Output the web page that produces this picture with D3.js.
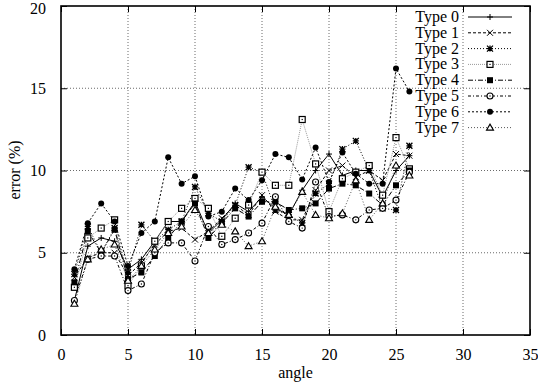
<!DOCTYPE html>
<html>
<head>
<meta charset="utf-8">
<script src="https://cdn.jsdelivr.net/npm/d3@7"></script>
<style>
  body { margin: 0; background: #fff; }
  svg text { font-family: "Times New Roman", "Liberation Serif", Times, serif !important; fill: #000; }
</style>
</head>
<body>
<svg id="chart" width="538" height="382"></svg>
<script>
const angles = d3.range(1, 27);
const type0 = [2.1, 5.4, 5.9, 5.7, 4.0, 4.6, 5.7, 6.9, 6.9, 8.1, 6.2, 7.0, 8.0, 7.5, 8.4, 7.7, 7.3, 8.8, 10.0, 11.0, 9.7, 10.0, 10.0, 8.4, 10.0, 10.9];
const type1 = [3.5, 4.7, 5.0, 5.0, 3.6, 4.4, 5.5, 6.3, 6.5, 5.8, 6.3, 7.1, 7.9, 7.3, 8.5, 7.5, 7.0, 7.0, 8.8, 10.0, 10.3, 9.6, 10.0, 9.4, 11.0, 10.9];
const type2 = [3.7, 6.6, 5.0, 6.5, 3.8, 6.7, 5.7, 6.4, 6.9, 9.0, 7.4, 6.9, 7.9, 10.2, 9.9, 7.6, 7.3, 6.8, 8.6, 9.2, 11.3, 11.8, 10.0, 7.7, 7.6, 11.5];
const type3 = [2.9, 5.9, 6.5, 7.0, 3.0, 4.2, 5.7, 6.9, 7.7, 8.3, 7.7, 6.0, 7.1, 7.9, 9.9, 9.1, 9.1, 13.1, 10.4, 7.5, 9.5, 9.9, 10.3, 8.5, 12.0, 10.1];
const type4 = [3.2, 6.3, 5.0, 6.4, 3.4, 3.8, 4.8, 5.9, 6.9, 8.0, 5.9, 6.8, 7.7, 7.2, 8.1, 8.1, 7.6, 7.7, 8.0, 8.9, 9.2, 9.1, 8.6, 7.9, 9.1, 10.0];
const type5 = [2.1, 4.6, 4.8, 4.8, 2.7, 3.1, 5.0, 5.6, 5.6, 4.5, 6.6, 5.5, 5.8, 6.2, 6.8, 8.4, 6.9, 6.5, 9.3, 7.2, 7.3, 7.0, 7.6, 7.7, 8.2, 9.9];
const type6 = [4.0, 6.8, 8.0, 6.9, 4.2, 6.2, 6.9, 10.8, 9.2, 9.65, 7.2, 7.5, 8.9, 8.2, 9.4, 11.0, 10.8, 9.45, 11.4, 9.3, 11.1, 9.8, 9.2, 9.2, 16.2, 14.8];
const type7 = [1.9, 4.6, 5.2, 5.5, 3.3, 4.2, 5.2, 6.2, 6.6, 7.6, 6.2, 6.7, 6.3, 5.4, 5.7, 7.8, 7.3, 8.7, 7.3, 7.1, 7.4, 9.4, 7.0, 8.0, 10.3, 9.7];
const typeNames = ["Type 0", "Type 1", "Type 2", "Type 3", "Type 4", "Type 5", "Type 6", "Type 7"];
const xTicks = [0, 5, 10, 15, 20, 25, 30, 35];
const yTicks = [0, 5, 10, 15, 20];

const allTypes = [type0, type1, type2, type3, type4, type5, type6, type7];
// line / point style per series, gnuplot-ish
const styles = [
  { dash: null, color: "#000", mark: "plus" },
  { dash: "3,2", color: "#000", mark: "cross" },
  { dash: "1,2", color: "#000", mark: "star" },
  { dash: "1,1", color: "#999", mark: "square" },
  { dash: "5,2,1,2", color: "#000", mark: "fsquare" },
  { dash: "3,2,1,2", color: "#000", mark: "circle" },
  { dash: "2,2", color: "#000", mark: "fcircle" },
  { dash: "1,2", color: "#555", mark: "triangle" }
];

const svg = d3.select("#chart");
const m = { left: 61, right: 530, top: 6, bottom: 335 };

const x = d3.scaleLinear().domain([0, 35]).range([m.left, m.right]);
const y = d3.scaleLinear().domain([0, 20]).range([m.bottom, m.top]);

// grid
const grid = svg.append("g");
grid.selectAll(".gx").data(xTicks.slice(1, -1)).enter().append("line")
  .attr("x1", d => x(d)).attr("x2", d => x(d))
  .attr("y1", m.top).attr("y2", m.bottom)
  .attr("stroke", "#444").attr("stroke-width", 0.8).attr("stroke-dasharray", "1,2");
grid.selectAll(".gy").data(yTicks.slice(1, -1)).enter().append("line")
  .attr("y1", d => y(d)).attr("y2", d => y(d))
  .attr("x1", m.left).attr("x2", m.right)
  .attr("stroke", "#444").attr("stroke-width", 0.8).attr("stroke-dasharray", "1,2");

// axes with inward ticks, mirrored
const xb = svg.append("g").attr("transform", `translate(0,${m.bottom})`)
  .call(d3.axisBottom(x).tickValues(xTicks).tickSizeInner(-6).tickSizeOuter(0).tickPadding(14));
const xt = svg.append("g").attr("transform", `translate(0,${m.top})`)
  .call(d3.axisTop(x).tickValues(xTicks).tickSizeInner(-6).tickSizeOuter(0).tickFormat(""));
const yl = svg.append("g").attr("transform", `translate(${m.left},0)`)
  .call(d3.axisLeft(y).tickValues(yTicks).tickSizeInner(-6).tickSizeOuter(0).tickPadding(15));
const yr = svg.append("g").attr("transform", `translate(${m.right},0)`)
  .call(d3.axisRight(y).tickValues(yTicks).tickSizeInner(-6).tickSizeOuter(0).tickFormat(""));
[xb, xt, yl, yr].forEach(g => {
  g.select(".domain").remove();
  g.selectAll("line").attr("stroke", "#000");
  g.selectAll("text").style("font-size", "16px");
});
yl.selectAll(".tick:last-of-type text").attr("dy", "0.45em");

svg.append("rect")
  .attr("x", m.left).attr("y", m.top)
  .attr("width", m.right - m.left).attr("height", m.bottom - m.top)
  .attr("fill", "none").attr("stroke", "#000").attr("stroke-width", 1.6);

svg.append("text").attr("x", (m.left + m.right) / 2).attr("y", 378)
  .attr("text-anchor", "middle").style("font-size", "16px").text("angle");
svg.append("text").attr("transform", "translate(20,170) rotate(-90)")
  .attr("text-anchor", "middle").style("font-size", "16px").text("error (%)");

function drawMark(g, kind, cx, cy) {
  const s = 3;
  if (kind === "plus") {
    g.append("path").attr("d", `M${cx - s},${cy}H${cx + s}M${cx},${cy - s}V${cy + s}`)
      .attr("stroke", "#000").attr("fill", "none");
  } else if (kind === "cross") {
    g.append("path").attr("d", `M${cx - s},${cy - s}L${cx + s},${cy + s}M${cx - s},${cy + s}L${cx + s},${cy - s}`)
      .attr("stroke", "#000").attr("fill", "none");
  } else if (kind === "star") {
    g.append("path").attr("d", `M${cx - s},${cy - s}L${cx + s},${cy + s}M${cx - s},${cy + s}L${cx + s},${cy - s}M${cx - s},${cy}H${cx + s}M${cx},${cy - s}V${cy + s}`)
      .attr("stroke", "#000").attr("stroke-width", 1.3).attr("fill", "none");
  } else if (kind === "square") {
    g.append("rect").attr("x", cx - s).attr("y", cy - s).attr("width", 2 * s).attr("height", 2 * s)
      .attr("fill", "#fff").attr("stroke", "#000").attr("stroke-width", 1.2);
    g.append("rect").attr("x", cx - 0.6).attr("y", cy - 0.6).attr("width", 1.2).attr("height", 1.2).attr("fill", "#000");
  } else if (kind === "fsquare") {
    g.append("rect").attr("x", cx - s).attr("y", cy - s).attr("width", 2 * s).attr("height", 2 * s).attr("fill", "#000");
  } else if (kind === "circle") {
    g.append("circle").attr("cx", cx).attr("cy", cy).attr("r", s)
      .attr("fill", "#fff").attr("stroke", "#000").attr("stroke-width", 1.1);
    g.append("circle").attr("cx", cx).attr("cy", cy).attr("r", 0.7).attr("fill", "#000");
  } else if (kind === "fcircle") {
    g.append("circle").attr("cx", cx).attr("cy", cy).attr("r", s).attr("fill", "#000");
  } else if (kind === "triangle") {
    g.append("path").attr("d", `M${cx},${cy - s - 0.5}L${cx + s + 0.5},${cy + s - 0.5}L${cx - s - 0.5},${cy + s - 0.5}Z`)
      .attr("fill", "#fff").attr("stroke", "#000").attr("stroke-width", 1.1);
  }
}

const line = d3.line().x((d, i) => x(angles[i])).y(d => y(d));
const plot = svg.append("g");

allTypes.forEach((vals, k) => {
  const st = styles[k];
  plot.append("path").datum(vals)
    .attr("d", line)
    .attr("fill", "none")
    .attr("stroke", st.color)
    .attr("stroke-width", 1)
    .attr("stroke-dasharray", st.dash);
});
allTypes.forEach((vals, k) => {
  const g = plot.append("g");
  vals.forEach((v, i) => drawMark(g, styles[k].mark, x(angles[i]), y(v)));
});

// legend
const leg = svg.append("g");
typeNames.forEach((name, k) => {
  const ly = 17 + k * 15.8;
  const st = styles[k];
  leg.append("text").attr("x", 459).attr("y", ly + 5)
    .attr("text-anchor", "end").style("font-size", "16px").text(name);
  leg.append("line").attr("x1", 468).attr("x2", 512).attr("y1", ly).attr("y2", ly)
    .attr("stroke", st.color).attr("stroke-dasharray", st.dash);
  drawMark(leg, st.mark, 490, ly);
});
</script>
</body>
</html>
